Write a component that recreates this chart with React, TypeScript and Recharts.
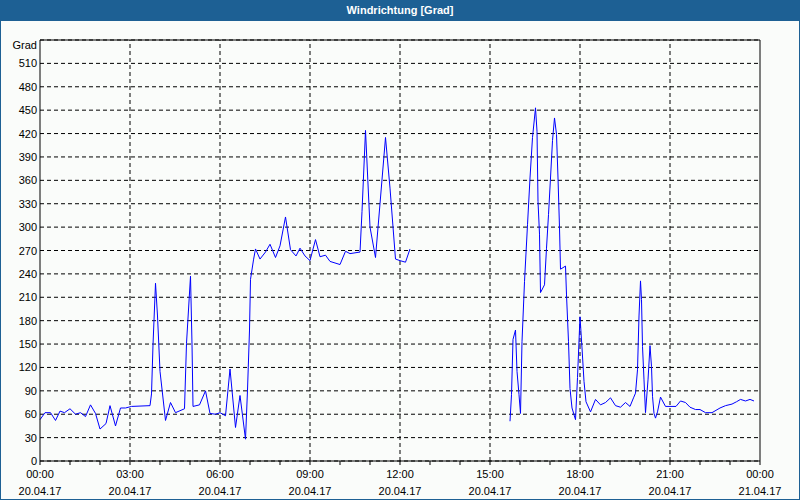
import React from 'react';
import { LineChart, Line, XAxis, YAxis, CartesianGrid, ReferenceLine } from 'recharts';

// minutes since 20.04.17 00:00
const minutes = [
  0, 10, 21, 31, 40, 49, 60, 71, 81, 91, 101, 111, 120, 132, 140, 151, 161, 171, 183, 220,
  223, 226, 231, 235, 240, 251, 261, 271, 289, 293, 301, 304, 306, 319, 331, 340, 351, 360, 371, 380,
  391, 400, 411, 415, 419, 421, 427, 431, 440, 451, 460, 471, 480, 491, 501, 512, 520, 530, 540, 551,
  560, 571, 580, 600, 611, 620, 640, 644, 651, 660, 671, 680, 691, 700, 711, 720, 731, 740, 800,
  940, 943, 946, 951, 954, 958, 961, 964, 969, 975, 980, 985, 991, 994, 996, 999, 1001, 1009, 1013,
  1017, 1021, 1025, 1029, 1033, 1036, 1039, 1041, 1051, 1053, 1057, 1060, 1064, 1071, 1075, 1080,
  1084, 1088, 1092, 1101, 1111, 1121, 1131, 1141, 1151, 1161, 1171, 1180, 1187, 1191, 1195, 1198,
  1201, 1203, 1205, 1208, 1211, 1216, 1220, 1223, 1225, 1228, 1231, 1235, 1241, 1251, 1260, 1272,
  1281, 1291, 1300, 1311, 1320, 1331, 1344, 1360, 1371, 1384, 1393, 1401, 1411, 1420, 1428,
];

const degrees: (number | null)[] = [
  53, 62, 62, 52, 64, 62, 67, 60, 62, 57, 72, 61, 41, 48, 71, 45, 68, 68, 70, 71,
  86, 149, 228, 186, 115, 52, 75, 62, 67, 151, 237, 150, 70, 72, 90, 61, 60, 62, 58, 118,
  43, 84, 28, 91, 168, 233, 258, 272, 259, 268, 278, 261, 276, 313, 271, 263, 273, 263, 257, 284,
  262, 264, 256, 252, 269, 266, 268, 320, 424, 300, 261, 330, 415, 350, 259, 257, 255, 272, null,
  51, 85, 156, 168, 115, 85, 61, 153, 230, 303, 363, 415, 453, 423, 333, 291, 216, 226, 273,
  316, 363, 411, 440, 419, 363, 299, 246, 250, 213, 153, 93, 68, 53, 107, 185,
  145, 102, 76, 63, 79, 72, 75, 81, 71, 69, 75, 70, 81, 87, 117, 186,
  231, 207, 147, 104, 62, 104, 148, 121, 83, 61, 55, 63, 82, 70, 70, 70,
  77, 75, 69, 66, 66, 62, 62, 68, 71, 73, 76, 79, 77, 79, 77,
];

const hourTicks = [0, 60, 120, 180, 240, 300, 360, 420, 480, 540, 600, 660, 720, 780, 840, 900, 960, 1020, 1080, 1140, 1200, 1260, 1320, 1380, 1440];
const majorTicks = [180, 360, 540, 720, 900, 1080, 1260];
const timeLabels = ['00:00', '03:00', '06:00', '09:00', '12:00', '15:00', '18:00', '21:00', '00:00'];
const dateLabels = ['20.04.17', '20.04.17', '20.04.17', '20.04.17', '20.04.17', '20.04.17', '20.04.17', '20.04.17', '21.04.17'];

const gradTicks = [0, 30, 60, 90, 120, 150, 180, 210, 240, 270, 300, 330, 360, 390, 420, 450, 480, 510, 540];
const compassTicks = [0, 45, 90, 135, 180, 225, 270, 315, 360, 405, 450, 495, 540];
const compassNames = ['N', 'NE', 'E', 'SE', 'S', 'SW', 'W', 'NW', 'N', 'NE', 'E', 'SE', 'S'];

const data = minutes.map((m, i) => ({ m, v: degrees[i] }));

const FONT = '"Liberation Sans", Arial, sans-serif';

const TimeTick = ({ x, y, payload }: any) => {
  if (payload.value % 180 !== 0) return <g />;
  const idx = payload.value / 180;
  return (
    <g>
      <text x={x} y={y + 11} textAnchor="middle" fontSize={11} fill="#000" fontFamily={FONT}>{timeLabels[idx]}</text>
      <text x={x} y={y + 28} textAnchor="middle" fontSize={11} fill="#000" fontFamily={FONT}>{dateLabels[idx]}</text>
    </g>
  );
};

const GradTick = ({ x, y, payload }: any) => (
  <text x={x} y={y + 4 + (payload.value === 540 ? 5 : 0)} textAnchor="end" fontSize={11} fill="#000" fontFamily={FONT}>
    {payload.value === 540 ? 'Grad' : payload.value}
  </text>
);

const CompassTick = ({ x, y, payload }: any) => (
  <text x={x} y={y + 4} textAnchor="start" fontSize={11} fill="#000" fontFamily={FONT}>
    {compassNames[compassTicks.indexOf(payload.value)]}
  </text>
);

export default function App() {
  return (
    <div style={{ position: 'absolute', left: 0, top: 0, width: 800, height: 500, background: '#fafcfa', fontFamily: FONT }}>
      <LineChart width={800} height={500} data={data} margin={{ top: 40, right: 0, left: 0, bottom: 0 }}>
        <CartesianGrid yAxisId="left" vertical={false} stroke="#000" strokeDasharray="4 3" />
        {majorTicks.map(t => (
          <ReferenceLine key={t} x={t} yAxisId="left" stroke="#000" strokeDasharray="4 3" />
        ))}
        <ReferenceLine y={540} yAxisId="left" stroke="#000" />
        <XAxis
          dataKey="m"
          type="number"
          domain={[0, 1440]}
          ticks={hourTicks}
          interval={0}
          height={39}
          tickSize={4}
          tickMargin={2}
          stroke="#000"
          tick={<TimeTick />}
        />
        <YAxis
          yAxisId="left"
          domain={[0, 540]}
          ticks={gradTicks}
          interval={0}
          width={40}
          tickLine={false}
          tickSize={0}
          tickMargin={3}
          stroke="#000"
          tick={<GradTick />}
        />
        <YAxis
          yAxisId="right"
          orientation="right"
          domain={[0, 540]}
          ticks={compassTicks}
          interval={0}
          width={40}
          tickLine={false}
          tickSize={0}
          tickMargin={3}
          stroke="#000"
          tick={<CompassTick />}
        />
        <Line
          yAxisId="left"
          type="linear"
          dataKey="v"
          stroke="#0000ff"
          strokeWidth={1}
          dot={false}
          connectNulls={false}
          isAnimationActive={false}
        />
      </LineChart>
      <div style={{ position: 'absolute', left: 0, top: 0, width: 800, height: 21, background: '#1d6094', color: '#fff', fontSize: 11, fontWeight: 'bold', textAlign: 'center', lineHeight: '21px' }}>
        Windrichtung [Grad]
      </div>
      <div style={{ position: 'absolute', left: 0, top: 0, width: 800, height: 500, boxSizing: 'border-box', border: '1px solid #1d6094', pointerEvents: 'none' }} />
    </div>
  );
}
